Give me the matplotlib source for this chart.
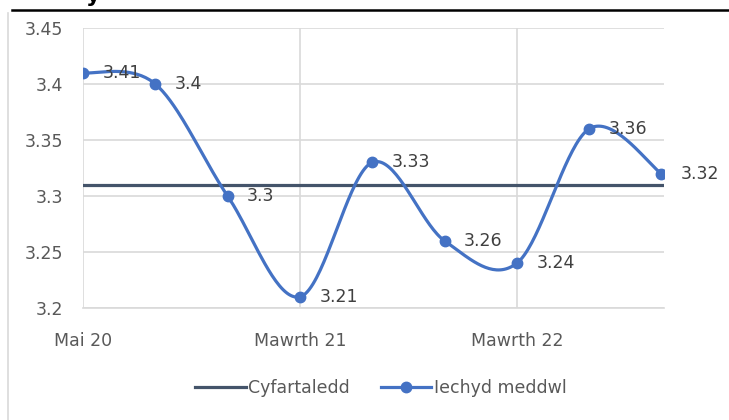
import matplotlib.pyplot as plt
import numpy as np
from matplotlib.lines import Line2D

# data
categories = ["Mai 20", "", "", "Mawrth 21", "", "", "Mawrth 22", "", ""]
iechyd = [3.41, 3.40, 3.30, 3.21, 3.33, 3.26, 3.24, 3.36, 3.32]
cyfartaledd = 3.31
y_ticks = [3.2, 3.25, 3.3, 3.35, 3.4, 3.45]
y_labels = ["3.2", "3.25", "3.3", "3.35", "3.4", "3.45"]

blue = "#4472C4"
navy = "#44546A"
grid_c = "#D9D9D9"
txt_c = "#595959"

plt.rcParams['font.family'] = ['DejaVu Sans']
fs = 12.5


def smooth(xs, ys, n=40):
    # excel-like smoothing: catmull-rom as cubic bezier
    P = np.column_stack([xs, ys]).astype(float)
    out = []
    for i in range(len(P) - 1):
        p0 = P[i - 1] if i > 0 else P[i]
        p1 = P[i]
        p2 = P[i + 1]
        p3 = P[i + 2] if i + 2 < len(P) else P[i + 1]
        c1 = p1 + (p2 - p0) / 6
        c2 = p2 - (p3 - p1) / 6
        t = np.linspace(0, 1, n)[:, None]
        seg = (1 - t) ** 3 * p1 + 3 * (1 - t) ** 2 * t * c1 + 3 * (1 - t) * t ** 2 * c2 + t ** 3 * p2
        out.append(seg if i == 0 else seg[1:])
    out = np.vstack(out)
    return out[:, 0], out[:, 1]


fig = plt.figure(figsize=(7.29, 4.2), dpi=100)
ax = fig.add_axes([83 / 729, 1 - 308 / 420, (664 - 83) / 729, 280 / 420])

x = np.arange(len(iechyd))
ax.axhline(cyfartaledd, color=navy, lw=2.3, zorder=2)
sx, sy = smooth(x, iechyd)
ax.plot(sx, sy, color=blue, lw=2.3, zorder=3)
ax.plot(x, iechyd, 'o', color=blue, ms=7.5, zorder=4)

for xi, v in zip(x, iechyd):
    ax.annotate(f"{v:g}", (xi, v), xytext=(14, 0), textcoords='offset points',
                ha='left', va='center', fontsize=fs, color="#404040", zorder=5)

ax.set_ylim(3.2, 3.45)
ax.set_xlim(0, len(iechyd) - 1 + 0.035)
ax.set_yticks(y_ticks)
ax.set_yticklabels(y_labels)
tick_pos = [i for i, c in enumerate(categories) if c]
ax.set_xticks(tick_pos)
ax.set_xticklabels([categories[i] for i in tick_pos])
ax.tick_params(axis='y', length=0, pad=14, labelsize=fs, labelcolor=txt_c)
ax.tick_params(axis='x', length=0, pad=17, labelsize=fs, labelcolor=txt_c)
ax.grid(True, color=grid_c, lw=1.2)
ax.set_axisbelow(True)
for s in ['top', 'right', 'left']:
    ax.spines[s].set_visible(False)
ax.spines['bottom'].set_color(grid_c)
ax.spines['bottom'].set_linewidth(1.2)

handles = [Line2D([], [], color=navy, lw=2.3),
           Line2D([], [], color=blue, lw=2.3, marker='o', ms=7.5)]
fig.legend(handles, ["Cyfartaledd", "Iechyd meddwl"], loc='center',
           bbox_to_anchor=(381 / 729, 1 - 388 / 420), ncol=2, frameon=False,
           fontsize=fs, labelcolor=txt_c, handlelength=2.9, handletextpad=0.15,
           columnspacing=1.8)

# cropped chart frame and title rule
fig.add_artist(Line2D([12 / 729, 1], [1 - 9.5 / 420] * 2, color='black', lw=1.8,
                      transform=fig.transFigure))
fig.add_artist(Line2D([8 / 729] * 2, [0, 1 - 13 / 420], color=grid_c, lw=1.2,
                      transform=fig.transFigure))
fig.text(86 / 729, 1 - 2 / 420, "y", fontsize=16, fontweight='bold', color='black',
         ha='left', va='baseline')

fig.savefig("out.png", dpi=100)
